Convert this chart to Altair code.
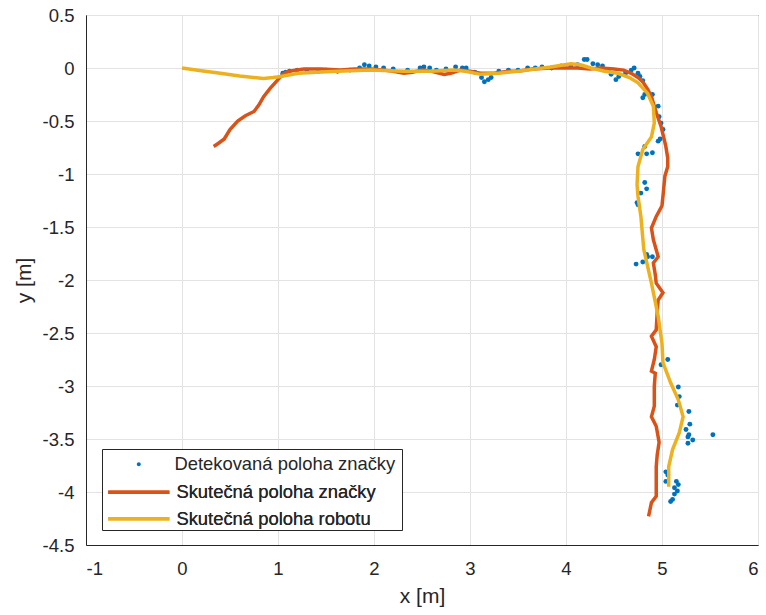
import altair as alt
import pandas as pd

# --- data ---
red_x = [0.33, 0.38, 0.44, 0.50, 0.58, 0.66, 0.75, 0.80, 0.85, 0.92, 1.00, 1.05, 1.10, 1.18, 1.27, 1.45,
         1.65, 1.80, 1.97, 2.10, 2.20, 2.31, 2.40, 2.50, 2.60, 2.73, 2.80, 2.90, 3.00, 3.11, 3.25, 3.40,
         3.50, 3.65, 3.84, 4.00, 4.12, 4.25, 4.36, 4.50, 4.60, 4.68, 4.75, 4.80, 4.85, 4.89, 4.94, 4.99,
         5.04, 5.06, 5.06, 5.03, 5.01, 5.00, 4.94, 4.89, 4.91, 4.96, 4.91, 4.93, 4.94, 5.01, 4.96, 4.95,
         4.94, 4.89, 4.94, 4.92, 4.89, 4.93, 4.92, 4.92, 4.89, 4.94, 4.97, 4.95, 4.94, 4.94, 4.94, 4.89, 4.86]
red_y = [-0.74, -0.71, -0.67, -0.58, -0.50, -0.45, -0.41, -0.35, -0.27, -0.19, -0.11, -0.06, -0.035, -0.02,
         -0.01, -0.01, -0.02, -0.01, -0.01, -0.02, -0.03, -0.05, -0.04, -0.02, -0.03, -0.06, -0.05, -0.02,
         -0.03, -0.05, -0.05, -0.03, -0.03, -0.01, 0.0, 0.0, 0.0, -0.01, 0.0, -0.01, -0.02, -0.05, -0.09,
         -0.13, -0.20, -0.27, -0.42, -0.55, -0.74, -0.85, -0.93, -1.02, -1.21, -1.30, -1.40, -1.51, -1.62,
         -1.78, -1.84, -1.95, -2.03, -2.12, -2.19, -2.30, -2.47, -2.53, -2.63, -2.75, -2.86, -2.88, -3.00,
         -3.19, -3.29, -3.38, -3.53, -3.65, -3.76, -3.90, -4.04, -4.10, -4.23]

yel_x = [0.0, 0.2, 0.40, 0.60, 0.85, 0.95, 1.03, 1.21, 1.40, 1.62, 1.97, 2.31, 2.59, 2.83, 2.95, 3.11, 3.30,
         3.5, 3.84, 4.05, 4.15, 4.26, 4.40, 4.54, 4.66, 4.75, 4.85, 4.91, 4.92, 4.89, 4.80, 4.75, 4.74, 4.75,
         4.78, 4.81, 4.89, 4.96, 5.00, 5.01, 5.09, 5.17, 5.22, 5.18, 5.11, 5.07, 5.07]
yel_y = [0.0, -0.025, -0.05, -0.075, -0.10, -0.09, -0.08, -0.05, -0.04, -0.03, -0.02, -0.03, -0.03, -0.02,
         -0.03, -0.06, -0.05, -0.03, 0.01, 0.04, 0.03, 0.0, -0.03, -0.05, -0.09, -0.14, -0.24, -0.36, -0.52,
         -0.65, -0.77, -0.93, -1.10, -1.21, -1.40, -1.71, -2.03, -2.34, -2.60, -2.78, -2.97, -3.13, -3.29,
         -3.44, -3.60, -3.76, -3.95]

det_x = [1.05, 1.08, 1.12, 1.2, 1.3, 1.42, 1.5, 1.62, 1.75, 1.85, 1.9, 1.95, 2.02, 2.1, 2.2, 2.35, 2.48, 2.52,
         2.58, 2.65, 2.75, 2.85, 2.92, 2.96, 3.05, 3.12, 3.15, 3.19, 3.22, 3.3, 3.4, 3.5, 3.6, 3.68, 3.75,
         3.85, 3.95, 4.05, 4.12, 4.19, 4.22, 4.28, 4.33, 4.38, 4.44, 4.47, 4.52, 4.55, 4.62, 4.68, 4.71,
         4.75, 4.77, 4.80,
         4.80, 4.82, 4.90, 4.96, 4.97, 4.99, 5.01, 4.96, 4.98, 4.82, 4.75, 4.84, 4.90, 4.82, 4.84, 4.78,
         4.74, 4.75, 4.84, 4.85, 4.90, 4.73, 4.80,
         5.06, 4.99, 5.17, 5.18, 5.16, 5.28, 5.29, 5.25, 5.27, 5.28, 5.32, 5.27, 5.53, 5.04, 5.06, 5.04,
         5.15, 5.17, 5.13, 5.16, 5.13, 5.11, 5.09]
det_y = [-0.05, -0.04, -0.03, -0.02, -0.02, -0.03, -0.02, -0.03, -0.02, 0.0, 0.03, 0.02, 0.01, 0.0, -0.01,
         -0.02, 0.0, 0.01, 0.0, -0.02, -0.01, 0.01, 0.0, 0.0, -0.04, -0.09, -0.13, -0.11, -0.09, -0.03,
         -0.02, -0.02, 0.0, 0.0, 0.01, 0.0, 0.02, 0.02, 0.03, 0.08, 0.08, 0.04, 0.03, 0.02, -0.02, -0.06,
         -0.11, -0.08, -0.05, -0.02, 0.0, -0.05, -0.08, -0.12,
         -0.28, -0.25, -0.25, -0.36, -0.46, -0.52, -0.58, -0.69, -0.67, -0.74, -0.81, -0.81, -0.80, -1.08,
         -1.14, -1.18, -1.27, -1.29, -1.76, -1.78, -1.78, -1.85, -1.83,
         -2.75, -2.80, -3.01, -3.10, -3.18, -3.24, -3.36, -3.41, -3.48, -3.46, -3.51, -3.54, -3.46, -3.81,
         -3.84, -3.90, -3.90, -3.93, -3.96, -3.99, -4.02, -4.07, -4.09]

names = ["Detekovaná poloha značky", "Skutečná poloha značky", "Skutečná poloha robotu"]
colors = ["#0072BD", "#D95319", "#EDB120"]
x_ticks = [-1, 0, 1, 2, 3, 4, 5, 6]
y_ticks = [-4.5, -4, -3.5, -3, -2.5, -2, -1.5, -1, -0.5, 0, 0.5]

det = pd.DataFrame({"x": det_x, "y": det_y, "s": names[0]})
red = pd.DataFrame({"x": red_x, "y": red_y, "s": names[1], "i": range(len(red_x))})
yel = pd.DataFrame({"x": yel_x, "y": yel_y, "s": names[2], "i": range(len(yel_x))})

FONT = "Liberation Sans"
TXT = "#262626"
LFS = 18.4

xs = alt.Scale(domain=[-1, 6], nice=False, zero=False)
ys = alt.Scale(domain=[-4.5, 0.5], nice=False, zero=False)

# point legend carries the box (its label is the longest); a blank bottom title
# makes room for the two line entries, drawn by the line legend on top of it
DOT = "M9.8,0A1,1,0,1,0,11.8,0A1,1,0,1,0,9.8,0Z"
point_legend = alt.Legend(
    title="\u00a0", titleOrient="bottom", titleFontSize=40, titlePadding=9.6,
    orient="none", legendX=16, legendY=434, padding=6, zindex=1,
    fillColor="white", strokeColor=TXT,
    labelFont=FONT, labelFontSize=LFS, labelColor=TXT, labelOffset=48, labelLimit=400,
    symbolType=DOT, symbolSize=16, symbolOpacity=1,
)
line_legend = alt.Legend(
    title=None, orient="none", legendX=22, legendY=468, padding=0, zindex=2,
    labelFont=FONT, labelFontSize=LFS, labelColor=TXT, labelOffset=50, labelLimit=400,
    symbolType="M-1.5,0H8.7", symbolSize=144, symbolStrokeWidth=3.5, rowPadding=7.5,
)

xax = alt.Axis(values=x_ticks, title="x [m]", labelExpr="datum.value + ''", ticks=False,
               labelPadding=14, titlePadding=8, grid=True)
yax = alt.Axis(values=y_ticks, title="y [m]", labelExpr="datum.value + ''", ticks=False,
               labelPadding=12, titlePadding=8, grid=True)
X = alt.X("x:Q", scale=xs, axis=xax)
Y = alt.Y("y:Q", scale=ys, axis=yax)

pts = alt.Chart(det).mark_circle(size=24, opacity=1).encode(
    x=X, y=Y,
    color=alt.Color("s:N", scale=alt.Scale(domain=names[:1], range=colors[:1]), legend=point_legend))
stroke = alt.Stroke("s:N", scale=alt.Scale(domain=names[1:], range=colors[1:]), legend=line_legend)
l1 = alt.Chart(red).mark_line(strokeWidth=3.5).encode(x=X, y=Y, stroke=stroke, order="i:Q")
l2 = alt.Chart(yel).mark_line(strokeWidth=3.5).encode(x=X, y=Y, stroke=stroke, order="i:Q")

chart = alt.layer(pts, l1, l2).resolve_scale(color="independent", stroke="independent").properties(
    width=672, height=530, autosize=alt.AutoSizeParams(type="none"),
    padding={"left": 86, "top": 15, "right": 8, "bottom": 70},
).configure_view(stroke=TXT, strokeWidth=1).configure_axis(
    labelFont=FONT, labelFontSize=18.5, labelColor=TXT, titleFont=FONT, titleFontSize=21,
    titleColor=TXT, titleFontWeight="normal", gridColor="#e3e3e3", gridWidth=1,
    domainColor=TXT, domainWidth=1,
)

chart.save("out.html", embed_options={"renderer": "svg", "actions": False})
